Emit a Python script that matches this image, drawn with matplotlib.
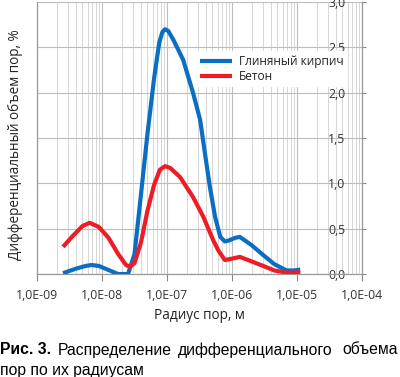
import numpy as np
import matplotlib
matplotlib.use('Agg')
import matplotlib.pyplot as plt
from matplotlib.ticker import LogLocator, FixedLocator, NullFormatter

# values: log10 of pore radius (m) and differential volume (%)
brick_logr = [-8.60, -8.40, -8.25, -8.16, -8.05, -7.95, -7.75, -7.60, -7.50, -7.40,
              -7.30, -7.20, -7.12, -7.07, -7.03, -6.98, -6.90, -6.75, -6.60, -6.49,
              -6.42, -6.34, -6.26, -6.18, -6.11, -6.05, -5.95, -5.88, -5.70, -5.52,
              -5.35, -5.16, -5.05, -4.95]
brick_vol = [0.01, 0.06, 0.09, 0.10, 0.09, 0.06, 0.00, 0.00, 0.22, 0.88,
             1.55, 2.15, 2.55, 2.67, 2.70, 2.68, 2.58, 2.36, 2.00, 1.70,
             1.35, 0.96, 0.63, 0.41, 0.36, 0.37, 0.40, 0.41, 0.32, 0.21,
             0.11, 0.04, 0.04, 0.05]

concrete_logr = [-8.60, -8.45, -8.30, -8.19, -8.05, -7.90, -7.75, -7.63, -7.57, -7.50,
                 -7.40, -7.30, -7.20, -7.11, -7.03, -6.95, -6.80, -6.60, -6.44, -6.29,
                 -6.21, -6.11, -6.00, -5.88, -5.70, -5.52, -5.35, -5.16, -5.05, -4.95]
concrete_vol = [0.30, 0.42, 0.53, 0.565, 0.52, 0.40, 0.22, 0.10, 0.08, 0.12,
                0.35, 0.70, 0.98, 1.15, 1.19, 1.17, 1.07, 0.85, 0.63, 0.375,
                0.26, 0.155, 0.17, 0.19, 0.14, 0.09, 0.04, 0.015, 0.015, 0.025]

series_names = ['Глиняный кирпич', 'Бетон']
x_ticks = [1e-9, 1e-8, 1e-7, 1e-6, 1e-5, 1e-4]
x_tick_labels = ['1,0E-09', '1,0E-08', '1,0E-07', '1,0E-06', '1,0E-05', '1,0E-04']
y_ticks = [0.0, 0.5, 1.0, 1.5, 2.0, 2.5, 3.0]
y_tick_labels = ['0,0', '0,5', '1,0', '1,5', '2,0', '2,5', '3,0']

excel_font = ['Open Sans', 'DejaVu Sans']
caption_font = ['Liberation Sans', 'DejaVu Sans']

fig = plt.figure(figsize=(4.0, 3.77), dpi=100)
ax = fig.add_axes([0.0925, 0.273, 0.8125, 0.7217])

ax.plot(10 ** np.array(brick_logr), brick_vol, color='#0a6fc2', lw=3,
        solid_capstyle='butt', solid_joinstyle='round', label=series_names[0], zorder=3)
ax.plot(10 ** np.array(concrete_logr), concrete_vol, color='#ee1c25', lw=3,
        solid_capstyle='butt', solid_joinstyle='round', label=series_names[1], zorder=3)

ax.set_xscale('log')
ax.set_xlim(1e-9, 1e-4)
ax.set_ylim(0, 3.0)

ax.xaxis.set_major_locator(FixedLocator(x_ticks))
ax.set_xticklabels(x_tick_labels, fontsize=8.8, family=excel_font, color='#333333')
ax.xaxis.set_minor_locator(LogLocator(base=10, subs=np.arange(2, 10), numticks=20))
ax.xaxis.set_minor_formatter(NullFormatter())
ax.tick_params(axis='x', which='major', length=5, color='#888888', pad=6)
ax.tick_params(axis='x', which='minor', length=0)

ax.yaxis.tick_right()
ax.set_yticks(y_ticks)
ax.set_yticklabels(y_tick_labels, fontsize=8.8, family=excel_font, color='#333333')
for lab in ax.get_yticklabels():
    lab.set_horizontalalignment('right')
ax.tick_params(axis='y', length=3, color='#888888', pad=-15)

ax.grid(True, which='major', axis='both', color='#bdbdbd', lw=0.8)
ax.grid(True, which='minor', axis='x', color='#d6d6d6', lw=0.7)
ax.set_axisbelow(True)

for side in ['left', 'right', 'bottom']:
    ax.spines[side].set_color('#999999')
    ax.spines[side].set_linewidth(0.9)
ax.spines['top'].set_visible(False)

ax.set_xlabel('Радиус пор, м', fontsize=9.8, family=excel_font, color='#222222', labelpad=4)
fig.text(0.038, 0.615, 'Дифференциальный объем пор, %', rotation=90, ha='center',
         va='center', fontsize=9.8, family=excel_font, color='#222222')

leg = ax.legend(loc='center left', bbox_to_anchor=(0.49, 0.754), frameon=True,
                fancybox=False, edgecolor='white', framealpha=1, borderpad=0.3,
                borderaxespad=0, handlelength=2.7, handletextpad=0.55, labelspacing=0.15,
                prop={'family': excel_font, 'size': 8.6})
for t in leg.get_texts():
    t.set_color('#222222')

# caption (justified across the width)
cap_y1 = 1 - 350 / 377
cap_y2 = 1 - 370 / 377
fig.text(0.0, cap_y1, 'Рис. 3.', fontsize=11.3, weight='bold', family=caption_font, va='center')
caption_words = ['Распределение', 'дифференциального', 'объема']
fig.text(58 / 400, cap_y1, caption_words[0], fontsize=11.3, family=caption_font, va='center')
fig.text(178 / 400, cap_y1, caption_words[1], fontsize=11.3, family=caption_font, va='center')
fig.text(398 / 400, cap_y1, caption_words[2], fontsize=11.3, family=caption_font, va='center', ha='right')
fig.text(0.0, cap_y2, 'пор по их радиусам', fontsize=11.3, family=caption_font, va='center')

fig.savefig('out.png', dpi=100)
